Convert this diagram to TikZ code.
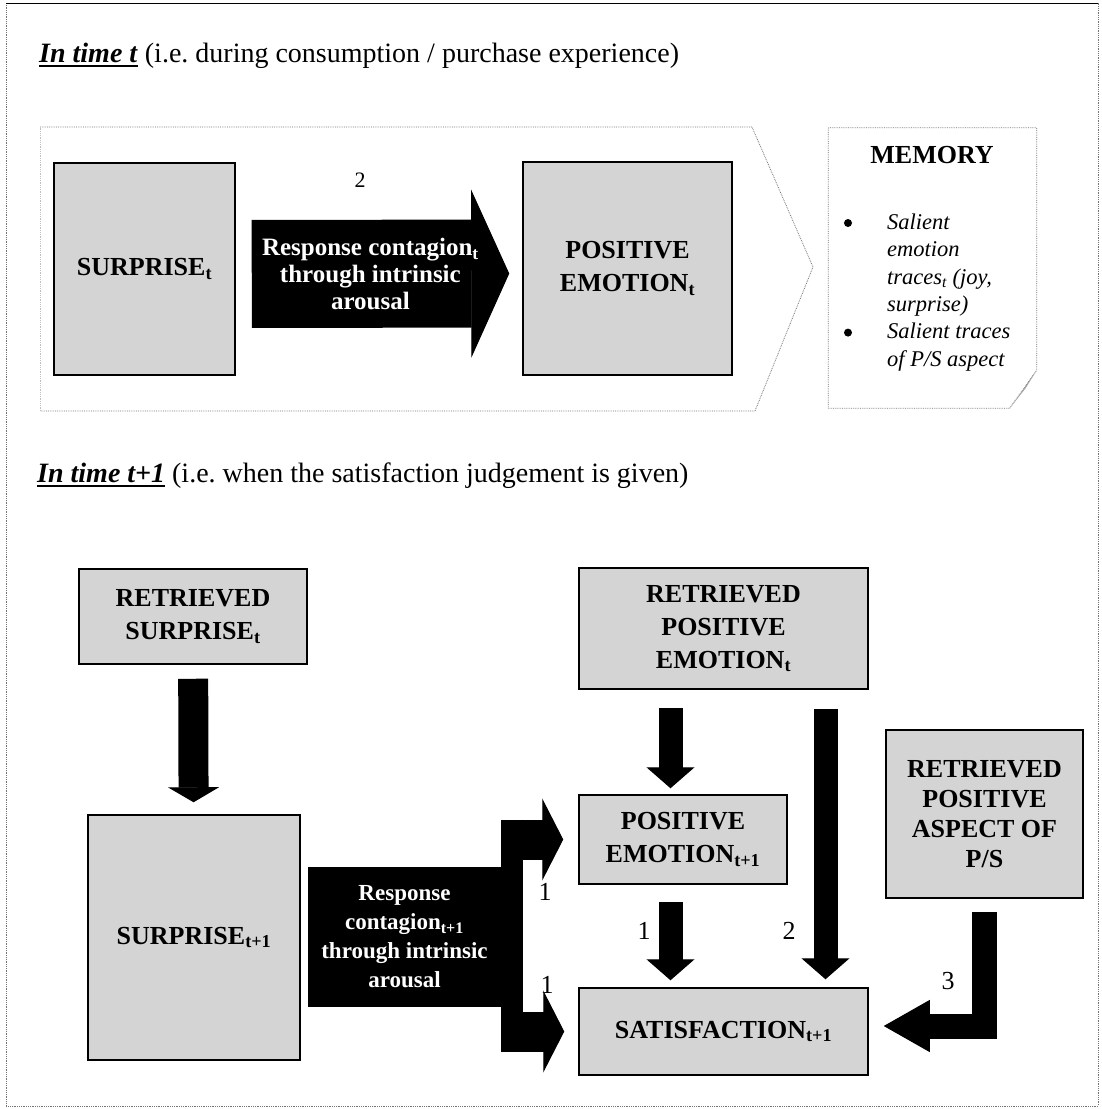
\documentclass[tikz,border=0pt]{standalone}
\usepackage{fontspec}
\setmainfont{Liberation Serif}
\usetikzlibrary{arrows.meta}

\newcommand{\boxfont}{\fontsize{26}{33}\selectfont\bfseries}
\newcommand{\titfont}{\fontsize{28}{34}\selectfont}
\newcommand{\memfont}{\fontsize{22.5}{27.4}\selectfont\itshape}
% thick underline for the two section titles
\newcommand{\timeul}[1]{\setbox0\hbox{#1}\rlap{\rule[-5pt]{\wd0}{2.5pt}}\box0\relax}

\tikzset{
  box/.style={draw, line width=1.5pt, fill=black!17, align=center, font=\boxfont, inner sep=0pt},
  blackbox/.style={fill=black, text=white, align=center, font=\fontsize{23}{29}\selectfont\bfseries, inner sep=0pt},
  downarrow/.style={line width=24pt, -{Triangle[width=48pt,length=21pt,line width=1pt]}},
  forkarrow/.style={line width=40pt, -{Triangle[width=82pt,length=21pt,line width=1pt]}},
  num/.style={font=\fontsize{26}{30}\selectfont, inner sep=0pt},
  dotline/.style={densely dotted, line width=0.8pt, black!55},
}

\begin{document}
\begin{tikzpicture}[x=1pt, y=-1pt]
  \useasboundingbox (0,0) rectangle (1102,1109);
  % frame
  \draw[dotline] (6,3) -- (6,1106) -- (1098,1106) -- (1098,3);
  \draw[line width=1pt] (6,3) -- (1098,3);

  % in time t
  \node[anchor=base west, inner sep=0pt, font=\titfont] (tit1) at (39,62)
    {\timeul{\textbf{\textit{In time t}}} (i.e.\ during consumption / purchase experience)};
  \draw[dotline] (40,127) -- (752,127) -- (813,267) -- (755,411) -- (40,411);
  \draw[dotline, black!25] (40,411) -- (40,127);
  \node[box, minimum width=181pt, minimum height=212pt] (surT) at (144.5,269) {SURPRISE\textsubscript{t}};
  \node[box, minimum width=209pt, minimum height=213pt] (posT) at (627.5,268.5) {POSITIVE\\EMOTION\textsubscript{t}};
  \draw[line width=108pt, -{Triangle[width=168pt,length=38pt,line width=1pt]}, shorten <=16pt, shorten >=13pt]
    ([yshift=-5pt]surT.east) -- ([yshift=-5pt]posT.west)
    node[pos=0.47, text=white, align=center, font=\fontsize{25}{27}\selectfont\bfseries] (respT)
    {Response contagion\textsubscript{t}\\through intrinsic\\arousal};
  \node[num, font=\fontsize{22}{26}\selectfont] (lab2T) at (360,180) {2};

  % memory note
  \node[minimum width=208pt, minimum height=280pt] (mem) at (932.5,268) {};
  \draw[dotline] (mem.north west) -- (mem.north east) -- ([yshift=38pt]mem.south east)
    -- ([xshift=-27pt]mem.south east) -- (mem.south west) -- cycle;
  \fill[black!35] ([yshift=38pt]mem.south east) -- ([xshift=-27pt]mem.south east)
    -- ([xshift=-11pt,yshift=20pt]mem.south east) -- cycle;
  \node[font=\boxfont, inner sep=0pt] (memT) at (932,155) {MEMORY};
  \node[anchor=north west, align=left, font=\memfont, inner sep=0pt] (memList) at (887,213.5)
    {Salient\\emotion\\traces\textsubscript{t} (joy,\\surprise)\\Salient traces\\of P/S aspect};
  \foreach \y/\n in {223/A,332.6/B}
    \node[circle, fill, inner sep=0pt, minimum size=8pt] (bul\n) at (848,\y) {};

  % in time t+1
  \node[anchor=base west, inner sep=0pt, font=\titfont] (tit2) at (37,482)
    {\timeul{\textbf{\textit{In time t+1}}} (i.e.\ when the satisfaction judgement is given)};
  \node[box, minimum width=228pt, minimum height=95pt] (rSur) at (193,616.5) {RETRIEVED\\SURPRISE\textsubscript{t}};
  \node[box, minimum width=212pt, minimum height=245pt] (sur1) at (194,937.5) {SURPRISE\textsubscript{t+1}};
  \node[blackbox, minimum width=193pt, minimum height=140pt] (resp1) at (404.5,937)
    {Response\\contagion\textsubscript{t+1}\\through intrinsic\\arousal};
  \node[box, minimum width=289pt, minimum height=121pt] (rPos) at (723.5,628.5) {RETRIEVED\\POSITIVE\\EMOTION\textsubscript{t}};
  \node[box, minimum width=208pt, minimum height=89pt] (pos1) at (683,839.5) {POSITIVE\\EMOTION\textsubscript{t+1}};
  \node[box, minimum width=289pt, minimum height=87pt] (sat1) at (723.5,1031.5) {SATISFACTION\textsubscript{t+1}};
  \node[box, minimum width=197pt, minimum height=168pt, font=\fontsize{26}{30}\selectfont\bfseries] (rAsp) at (984.5,814)
    {RETRIEVED\\POSITIVE\\ASPECT OF\\P/S};

  % block arrows
  \draw[downarrow, line width=30pt, -{Triangle[width=51pt,length=15pt,line width=1pt]}, shorten <=14pt, shorten >=12pt]
    (rSur) -- (sur1);
  \coordinate (aPos) at ([xshift=-53pt]rPos.south);
  \coordinate (aSat) at ([xshift=-12.5pt]pos1.south);
  \coordinate (aLong) at ([xshift=102pt]rPos.south);
  \draw[downarrow, shorten <=18pt, shorten >=6pt] (aPos) -- (aPos |- pos1.north);
  \draw[downarrow, shorten <=17pt, shorten >=7pt] (aSat) -- (aSat |- sat1.north);
  \draw[downarrow, shorten <=19pt, shorten >=8pt] (aLong) -- (aLong |- sat1.north);
  \draw[line width=25pt, -{Triangle[width=52pt,length=46pt,line width=1pt]}, shorten <=13pt, shorten >=15pt]
    (rAsp.south) |- ([yshift=5.5pt]sat1.east);
  % fork out of the black box
  \coordinate (fork) at (512,937);
  \coordinate (forkTop) at (fork |- pos1.west);
  \coordinate (forkBot) at (fork |- sat1.west);
  \draw[line width=22pt] ([yshift=20pt]forkTop) -- ([yshift=-20pt]forkBot);
  \draw[forkarrow, shorten >=15pt] ([xshift=-11pt]forkTop) -- (pos1.west);
  \draw[forkarrow, shorten >=14pt] ([xshift=-11pt]forkBot) -- (sat1.west);

  % labels
  \node[num] (lab1a) at (545,892) {1};
  \node[num] (lab1b) at (547,985) {1};
  \node[num] (lab1c) at (644,931) {1};
  \node[num] (lab2) at (789,931) {2};
  \node[num] (lab3) at (948,981) {3};
\end{tikzpicture}
\end{document}
